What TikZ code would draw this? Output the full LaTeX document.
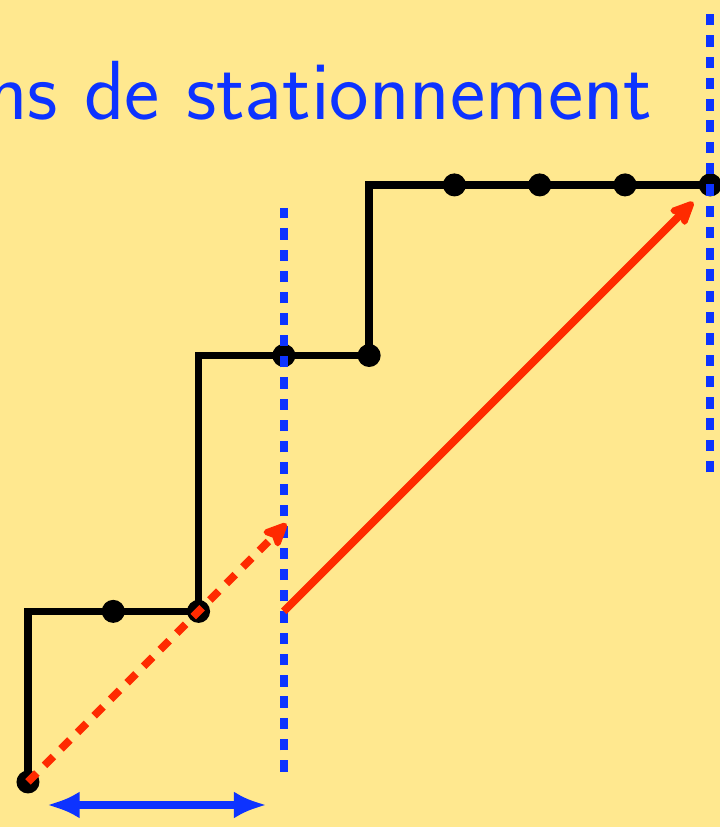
\documentclass[tikz,border=0pt]{standalone}
\usepackage{tikz}
\usetikzlibrary{positioning, arrows.meta}
\definecolor{stBack}{HTML}{FFE88F}
\definecolor{stBlue}{HTML}{0D33FF}
\definecolor{stRed}{HTML}{FF2A00}
\tikzset{
    stStep/.style={
        draw=black,
        line width=2.5pt,
        line join=miter
    },
    stDot/.style={
        circle,
        fill=black,
        inner sep=0pt,
        minimum size=0.27cm
    },
    % Limits of the window
    stLimit/.style={draw=stBlue, line width=2.7pt, dash pattern=on 3.8pt off 3.3pt},
    stSpan/.style={{Latex[length=11pt,width=9pt]}-{Latex[length=11pt,width=9pt]}, draw=stBlue, line width=2.6pt},
    % Arrows
    stJump/.style={-{Stealth[length=10pt,width=9pt,inset=2pt,round]}, draw=stRed, line width=2.6pt},
    stJumpDash/.style={stJump, dash pattern=on 4.2pt off 3.6pt},
    stTitle/.style={
        font=\fontsize{28}{33}\selectfont\sffamily,
        text=stBlue,
        inner sep=0pt
    }
}

\begin{document}
\begin{tikzpicture}
\fill[stBack] (-0.328,-0.528) rectangle (8.11,9.168);
\useasboundingbox (-0.328,-0.528) rectangle (8.11,9.168);

\node[stTitle, anchor=base east] (title) at (7.33,7.77) {ns de stationnement};

% staircase corners
\coordinate (c0) at (0,2);
\coordinate (c1) at (2,5);
\coordinate (c2) at (4,7);

\node[stDot] (d0) at (0,0) {};
\node[stDot] (d1) at (1,2) {};
\node[stDot] (d2) at (2,2) {};
\node[stDot] (d3) at (3,5) {};
\node[stDot] (d4) at (4,5) {};
\node[stDot] (d5) at (5,7) {};
\node[stDot] (d6) at (6,7) {};
\node[stDot] (d7) at (7,7) {};
\node[stDot] (d8) at (8,7) {};

\draw[stStep] (d0.center) -- (c0) -- (d2.center) |- (d4.center) |- (d8.center);

% window limits
\coordinate (lowA) at (3,0.12);
\coordinate (topA) at (3,6.73);
\coordinate (lowB) at (8,3.63);
\coordinate (topB) at (8,9.0);
\draw[stLimit] (lowA) -- (topA);
\draw[stLimit] (lowB) -- (topB);

% jumps
\coordinate (midA) at (3.03,3.03);
\coordinate (startB) at (3,2);
\coordinate (endB) at (7.8,6.8);
\draw[stJumpDash] (d0.center) -- (midA);
\draw[stJump] (startB) -- (endB);

\coordinate (spanL) at (0.22,-0.27);
\coordinate (spanR) at (2.8,-0.27);
\draw[stSpan] (spanL) -- (spanR);
\end{tikzpicture}
\end{document}
